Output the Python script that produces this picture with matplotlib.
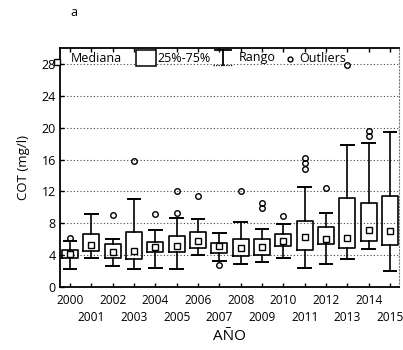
import matplotlib
matplotlib.use("Agg")
import matplotlib.pyplot as plt
from matplotlib.lines import Line2D
from matplotlib.patches import Rectangle

plt.rcParams['font.family'] = ['Open Sans', 'DejaVu Sans']

years = list(range(2000, 2016))
whislo = [2.3, 3.6, 2.6, 2.2, 2.4, 2.3, 4.0, 3.3, 2.9, 3.1, 3.6, 2.4, 2.9, 3.5, 4.8, 2.0]
q1 = [3.6, 4.5, 3.6, 3.5, 4.4, 4.4, 4.9, 4.3, 3.9, 4.0, 5.2, 4.7, 5.4, 4.9, 5.75, 5.3]
med = [4.1, 5.3, 4.4, 4.5, 5.0, 5.2, 5.8, 5.1, 4.9, 5.0, 5.8, 6.3, 6.0, 6.2, 7.2, 7.0]
q3 = [4.7, 6.7, 5.4, 6.9, 5.6, 6.4, 6.9, 5.5, 6.0, 6.0, 6.6, 8.3, 7.5, 11.2, 10.5, 11.4]
whishi = [5.8, 9.1, 6.0, 11.1, 7.2, 8.6, 8.5, 6.8, 8.2, 7.3, 7.9, 12.6, 9.3, 17.8, 18.1, 19.4]
outliers = [[6.2], [], [9.0], [15.8], [9.1], [9.3, 12.1], [11.4], [2.7], [12.1],
            [9.9, 10.5], [8.9], [14.8, 15.5, 16.2], [12.4], [27.8], [19.0, 19.6], []]
yticks = [0, 4, 8, 12, 16, 20, 24, 28]

fig = plt.figure(figsize=(4.03, 3.5), dpi=100)
ax = fig.add_axes([0.149, 0.18, 0.84, 0.683])

stats = []
for i in range(len(years)):
    stats.append(dict(med=med[i], q1=q1[i], q3=q3[i], whislo=whislo[i],
                      whishi=whishi[i], fliers=outliers[i]))
pos = list(range(len(years)))
ax.bxp(stats, positions=pos, widths=0.75, capwidths=0.6, showfliers=True,
       boxprops=dict(color='black', linewidth=1.2),
       whiskerprops=dict(color='black', linewidth=1.2),
       capprops=dict(color='black', linewidth=1.4),
       medianprops=dict(linestyle='none'),
       flierprops=dict(marker='o', markersize=4, markerfacecolor='none',
                       markeredgecolor='black', markeredgewidth=1.0))
ax.plot(pos, med, 's', markersize=4.5, markerfacecolor='white',
        markeredgecolor='black', markeredgewidth=1.0, linestyle='none', zorder=3)

ax.set_xlim(-0.47, 15.4)
ax.set_ylim(0, 30)
ax.set_yticks(yticks)
ax.set_yticklabels([str(v) for v in yticks], fontsize=9)

even_pos = [p for p, y in zip(pos, years) if y % 2 == 0]
odd_pos = [p for p, y in zip(pos, years) if y % 2 == 1]
ax.set_xticks(even_pos)
ax.set_xticklabels([str(y) for y in years if y % 2 == 0], fontsize=8.6)
ax.set_xticks(odd_pos, minor=True)
ax.set_xticklabels([str(y) for y in years if y % 2 == 1], minor=True, fontsize=8.6)
ax.tick_params(axis='both', which='both', direction='in', length=3, width=1)
ax.tick_params(axis='x', which='major', pad=5)
ax.tick_params(axis='x', which='minor', pad=17)
ax.tick_params(axis='y', pad=3)
ax.tick_params(axis='x', which='both', top=True)
for v in yticks[1:]:
    ax.axhline(v, color='#444444', linestyle=(0, (1, 2)), linewidth=0.8, zorder=0)
for s in ['left', 'bottom', 'top']:
    ax.spines[s].set_linewidth(1.3)
ax.spines['right'].set_linestyle((0, (1, 2)))
ax.spines['right'].set_linewidth(0.8)
ax.spines['right'].set_color('#777777')

ax.set_ylabel('COT (mg/l)', fontsize=9.5, labelpad=8)
ax.set_xlabel('AÑO', fontsize=11, labelpad=4)

fig.text(70 / 403, 1 - 12 / 350, 'a', fontsize=9, ha='left', va='center')

# legend drawn in figure pixel space
def fx(x):
    return x / 403

def fy(y):
    return 1 - y / 350

ly = 58
fig.add_artist(Line2D([fx(57)], [fy(62)], marker='s', markersize=4.5,
                      markerfacecolor='white', markeredgecolor='black',
                      markeredgewidth=1.0, linestyle='none'))
fig.text(fx(71), fy(ly), 'Mediana', fontsize=9, ha='left', va='center')
fig.add_artist(Rectangle((fx(136), fy(66)), fx(20), 16 / 350, facecolor='white',
                         edgecolor='black', linewidth=1.1))
fig.text(fx(157), fy(ly), '25%-75%', fontsize=9, ha='left', va='center')
fig.add_artist(Line2D([fx(215), fx(231)], [fy(50), fy(50)], color='black', linewidth=1.3))
fig.add_artist(Line2D([fx(223), fx(223)], [fy(50), fy(65)], color='black', linewidth=1.3))
fig.add_artist(Line2D([fx(213), fx(233)], [fy(65), fy(65)], color='black', linewidth=0.9,
                      linestyle=(0, (1, 1))))
fig.text(fx(239), fy(ly), 'Rango', fontsize=9, ha='left', va='center')
fig.add_artist(Line2D([fx(290)], [fy(59)], marker='o', markersize=3.5,
                      markerfacecolor='none', markeredgecolor='black',
                      markeredgewidth=1.0, linestyle='none'))
fig.text(fx(299), fy(ly), 'Outliers', fontsize=9, ha='left', va='center')

fig.savefig('out.png', dpi=100)
